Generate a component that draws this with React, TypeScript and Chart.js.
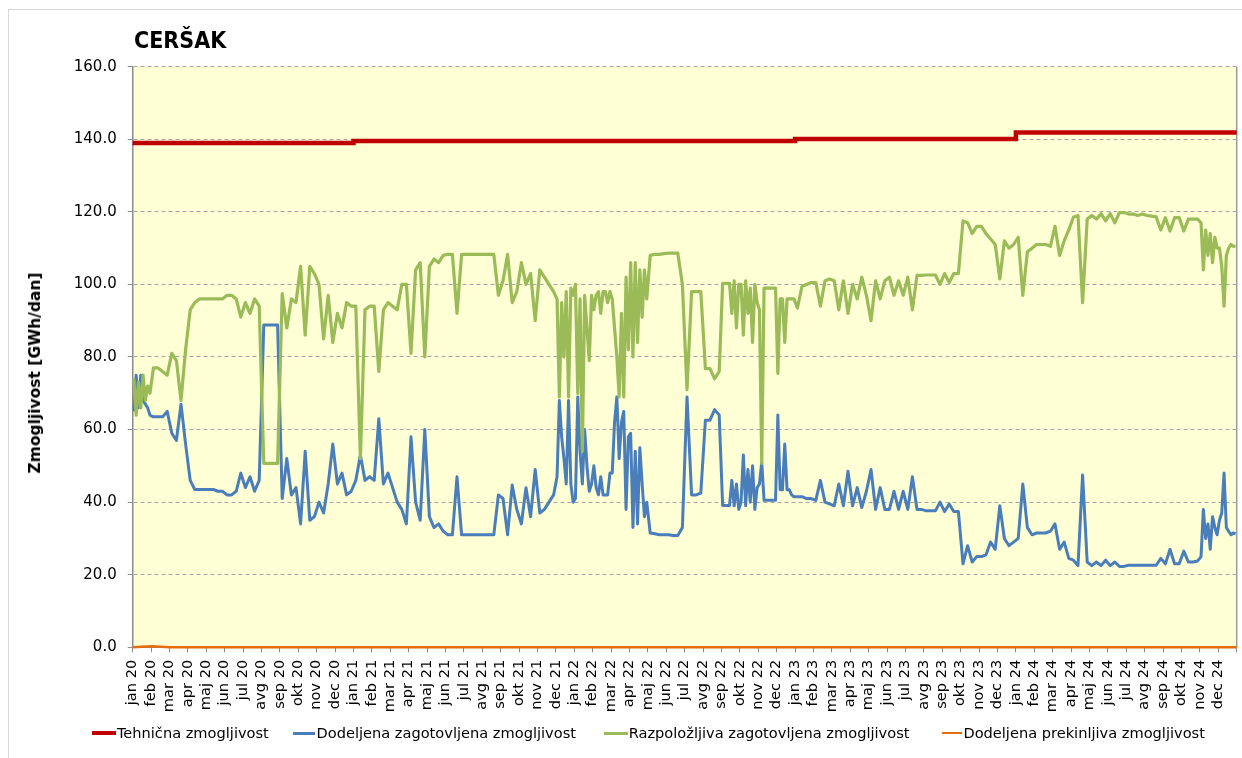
import React, { useEffect, useRef } from "react";
import { Chart, registerables } from "chart.js";

Chart.register(...registerables);

// ---------- DATA ----------
const monthNames = ["jan", "feb", "mar", "apr", "maj", "jun", "jul", "avg", "sep", "okt", "nov", "dec"];
const yearLabels = ["20", "21", "22", "23", "24"];
const monthLabels = yearLabels.flatMap((y) => monthNames.map((m) => `${m} ${y}`));

const yTicks = [0, 20, 40, 60, 80, 100, 120, 140, 160];

// Tehnična zmogljivost – one value per year (GWh/dan)
const technicalYearly = [139.0, 139.5, 139.5, 140.1, 141.9];

// Razpoložljiva zagotovljena zmogljivost – readings within each month (jan..dec)
const green2020 = [
  [74, 64, 73, 66, 75, 68, 72, 70], [77, 77, 76, 75], [81, 79, 68, 82], [93, 95, 96, 96],
  [96, 96, 96, 96], [97, 97, 96, 91], [95, 92, 96, 94], [50.7, 50.7, 50.7, 50.7],
  [97.5, 88, 96, 95], [105, 86, 105, 103], [100, 85, 97, 84], [92, 88, 95, 94],
];
const green2021 = [
  [94, 52, 93, 94], [94, 76, 93, 95], [94, 93, 100, 100], [81, 104, 106, 80],
  [105, 107, 106, 108], [108.3, 108.3, 92, 108.3], [108.3, 108.3, 108.3, 108.3], [108.3, 108.3, 108.3, 97],
  [101, 108.3, 95, 98], [106, 100, 103, 90], [104, 102, 100, 98], [96, 69, 95, 80, 98, 69, 99, 97],
];
const green2022 = [
  [100, 70, 96, 54, 97, 88, 79, 97], [93, 97, 98, 92, 98, 98, 95, 98], [96, 88, 80, 69, 92, 69, 102, 82],
  [106, 80, 106, 84, 104, 91, 104, 96], [108, 108.3, 108.3, 108.5], [108.6, 108.6, 108.6, 100],
  [71, 98, 98, 98], [76.8, 76.8, 74, 76], [100.3, 100.3, 100.3, 100.3, 92, 101, 88, 100],
  [100, 86, 101, 92, 99, 84, 100, 95], [93, 50.7, 99, 99, 99, 99, 99, 99], [75.5, 96, 96, 84, 96, 96, 96, 96],
];
const green2023 = [
  [93.5, 99.5, 100, 100.5], [100.5, 94, 101, 101.5], [101, 93, 101, 92], [100, 96, 102, 97],
  [90, 101, 96, 101], [102, 97, 101, 97], [102, 93, 102.5, 102.5], [102.6, 102.6, 102.6, 100],
  [103, 100.5, 103, 103], [117.5, 117, 114, 116], [116, 114, 112.5, 111], [101.5, 112, 110, 111],
];
const green2024 = [
  [113, 97, 109, 110], [111, 111, 111, 110.5], [116, 108, 112, 115], [118.5, 119, 95, 118],
  [119, 118, 119.5, 117.5], [119.5, 117, 119.8, 119.8], [119.4, 119.4, 119, 119.4], [119, 118.8, 118.6, 115],
  [118.4, 114.7, 118.4, 118.4], [114.7, 118, 118, 118], [117, 104, 115, 108, 114, 106, 113, 110],
  [110, 105, 94, 108, 110, 111, 110.5, 110.6],
];

// Dodeljena zagotovljena zmogljivost – readings within each month (jan..dec)
const blue2020 = [
  [65, 75, 66, 75, 68, 67, 66, 64], [63.5, 63.5, 63.5, 65], [59, 57, 67, 56], [46, 43.5, 43.5, 43.5],
  [43.5, 43.5, 43, 43], [42, 42, 43, 48], [44, 47, 43, 46], [88.8, 88.8, 88.8, 88.8],
  [41, 52, 42, 44], [34, 54, 35, 36], [40, 37, 45, 56], [45, 48, 42, 43],
];
const blue2021 = [
  [46, 53, 46, 47], [46, 63, 45, 48], [44, 40, 38, 34], [58, 40, 35, 60],
  [36, 33, 34, 32], [31, 31, 47, 31], [31, 31, 31, 31], [31, 31, 31, 42],
  [41, 31, 44.7, 38], [34, 44, 36, 49], [37, 38, 40, 42], [47, 68, 58, 52, 45, 68, 45, 40],
];
const blue2022 = [
  [41, 69, 54, 45, 60, 50, 43, 45], [50, 44, 42, 47, 42, 42, 42, 48], [48, 62, 69, 52, 62, 65, 38, 58],
  [59, 33, 54, 34, 55, 45, 36, 40], [31.5, 31.3, 31, 31], [31, 30.8, 30.8, 33],
  [69, 42, 42, 42.5], [62.6, 62.6, 65.5, 64], [39.1, 39.1, 39.1, 39.1, 46, 39, 45, 38],
  [40, 53, 39, 49, 40, 50, 38, 44], [45, 51, 40.5, 40.5, 40.5, 40.5, 40.5, 40.5],
  [64, 43.4, 43.4, 56, 43.4, 43.4, 42, 41.5],
];
const blue2023 = [
  [41.5, 41.5, 41, 41], [40.5, 46, 40, 39.5], [39, 45, 39, 48.5], [39, 44, 38.5, 43],
  [49, 38, 44, 38], [38, 43, 38, 43], [38, 47, 38, 38], [37.6, 37.6, 37.6, 40],
  [37.4, 39.5, 37.4, 37.4], [23, 28, 23.5, 25], [25, 25.5, 29, 27], [39, 30, 28, 29],
];
const blue2024 = [
  [30, 45, 33, 31], [31.5, 31.5, 31.5, 32], [34, 27, 29, 24.5], [24, 22.5, 47.5, 23.5],
  [22.5, 23.5, 22.5, 24], [22.5, 23.5, 22.3, 22.3], [22.6, 22.6, 22.6, 22.6], [22.6, 22.6, 22.6, 24.5],
  [23, 27, 23, 23], [26.5, 23.5, 23.5, 23.8], [25, 38, 30, 34, 27, 36, 33, 31],
  [35, 37, 48, 33, 32, 31, 31.5, 31.3],
];

// Dodeljena prekinljiva zmogljivost – monthly
const orangeMonthly = [
  0, 0.3, 0, 0, 0, 0, 0, 0, 0, 0, 0, 0,
  0, 0, 0, 0, 0, 0, 0, 0, 0, 0, 0, 0,
  0, 0, 0, 0, 0, 0, 0, 0, 0, 0, 0, 0,
  0, 0, 0, 0, 0, 0, 0, 0, 0, 0, 0, 0,
  0, 0, 0, 0, 0, 0, 0, 0, 0, 0, 0, 0,
];

const seriesNames = [
  "Tehnična zmogljivost",
  "Dodeljena zagotovljena zmogljivost",
  "Razpoložljiva zagotovljena zmogljivost",
  "Dodeljena prekinljiva zmogljivost",
];

// ---------- STYLE ----------
const FONT = "'DejaVu Sans', Verdana, sans-serif";
const C_RED = "#C00000";
const C_BLUE = "#4A7EBB";
const C_GREEN = "#9BBB59";
const C_ORANGE = "#E46C0A";

const W = 1242;
const H = 758;
const PLOT_L = 132.7;
const PLOT_R = 1236.7;
const PLOT_T = 66.7;
const PLOT_B = 647.3;
const TOTAL_MONTHS = monthLabels.length;

// month-structured readings -> points placed inside their month
const monthlyToPoints = (years: number[][][]) => {
  const pts: { x: number; y: number }[] = [];
  years.flat().forEach((vals, m) => {
    vals.forEach((v, k) => pts.push({ x: m + (k + 0.5) / vals.length, y: v }));
  });
  return pts;
};
const spread = (arr: number[]) => arr.map((v, i) => ({ x: (i * TOTAL_MONTHS) / (arr.length - 1), y: v }));

const plotBg = {
  id: "plotBg",
  beforeDraw(chart: any) {
    const { ctx, chartArea: a } = chart;
    ctx.save();
    ctx.fillStyle = "#FFFFD6";
    ctx.fillRect(a.left, a.top, a.right - a.left, a.bottom - a.top);
    ctx.strokeStyle = "#9a9a9a";
    ctx.lineWidth = 1.5;
    ctx.beginPath();
    ctx.moveTo(a.right, a.top);
    ctx.lineTo(a.right, a.bottom);
    ctx.stroke();
    ctx.restore();
  },
};

const legendPos = [
  { line: 91.7, w: 24, h: 4.5 },
  { line: 293.3, w: 22, h: 3 },
  { line: 604, w: 23.5, h: 3 },
  { line: 941.7, w: 20.5, h: 2.5 },
];
const legendColors = [C_RED, C_BLUE, C_GREEN, C_ORANGE];

export default function App() {
  const ref = useRef<HTMLCanvasElement | null>(null);

  useEffect(() => {
    if (!ref.current) return;
    const green = monthlyToPoints([green2020, green2021, green2022, green2023, green2024]);
    const blue = monthlyToPoints([blue2020, blue2021, blue2022, blue2023, blue2024]);
    const techPts = technicalYearly.map((v, i) => ({ x: i * 12, y: v }));
    techPts.push({ x: TOTAL_MONTHS, y: technicalYearly[technicalYearly.length - 1] });

    const chart = new Chart(ref.current, {
      type: "line",
      data: {
        datasets: [
          {
            label: seriesNames[0],
            data: techPts,
            borderColor: C_RED,
            borderWidth: 4.5,
            stepped: true,
            pointRadius: 0,
            order: 0,
            clip: false as any,
          },
          {
            label: seriesNames[3],
            data: spread(orangeMonthly),
            borderColor: C_ORANGE,
            borderWidth: 2.5,
            pointRadius: 0,
            order: 1,
            clip: false as any,
          },
          {
            label: seriesNames[2],
            data: green,
            borderColor: C_GREEN,
            borderWidth: 3.2,
            pointRadius: 0,
            borderJoinStyle: "round",
            order: 2,
            clip: false as any,
          },
          {
            label: seriesNames[1],
            data: blue,
            borderColor: C_BLUE,
            borderWidth: 3,
            pointRadius: 0,
            borderJoinStyle: "round",
            order: 3,
            clip: false as any,
          },
        ],
      },
      options: {
        responsive: false,
        animation: false,
        devicePixelRatio: 1,
        parsing: false as any,
        layout: { padding: { left: 0, top: PLOT_T, right: W - PLOT_R, bottom: 0 } },
        plugins: { legend: { display: false }, tooltip: { enabled: false }, title: { display: false } },
        elements: { line: { tension: 0 } },
        scales: {
          x: {
            type: "linear",
            min: 0,
            max: TOTAL_MONTHS,
            afterFit(s: any) {
              s.height = H - PLOT_B;
              s.paddingLeft = 0;
              s.paddingRight = 0;
            },
            afterBuildTicks(s: any) {
              s.ticks = Array.from({ length: TOTAL_MONTHS + 1 }, (_, i) => ({ value: i }));
            },
            ticks: {
              autoSkip: false,
              maxRotation: 90,
              minRotation: 90,
              padding: 7.5,
              color: "#000",
              font: { family: FONT, size: 14.6 },
              callback: (v: any) => monthLabels[Number(v)] ?? "",
            },
            grid: { drawOnChartArea: false, drawTicks: true, tickLength: 5, color: "#8c8c8c" },
            border: { display: true, color: "#8c8c8c", width: 1 },
          },
          y: {
            type: "linear",
            min: 0,
            max: 160,
            afterFit(s: any) {
              s.width = PLOT_L;
              s.paddingTop = 0;
              s.paddingBottom = 0;
            },
            afterBuildTicks(s: any) {
              s.ticks = yTicks.map((v) => ({ value: v }));
            },
            ticks: {
              padding: 11,
              color: "#000",
              font: { family: FONT, size: 15 },
              callback: (v: any) => Number(v).toFixed(1),
            },
            grid: { color: "#a6a6a6", lineWidth: 1, tickLength: 5, tickColor: "#8c8c8c", tickBorderDash: [] },
            border: { display: true, color: "#8c8c8c", width: 1.5, dash: [4, 3] },
          },
        },
      },
      plugins: [plotBg],
    });
    return () => chart.destroy();
  }, []);

  return (
    <div style={{ position: "absolute", left: 0, top: 0, width: W, height: H, overflow: "hidden", background: "#fff" }}>
      <div
        style={{
          position: "absolute",
          left: 8,
          top: 9,
          width: 1250,
          height: 800,
          border: "1px solid #d9d9d9",
          boxSizing: "border-box",
        }}
      />
      <canvas ref={ref} width={W} height={H} style={{ position: "absolute", left: 0, top: 0, display: "block" }} />
      <div
        style={{
          position: "absolute",
          left: 134,
          top: 28.5,
          font: `bold 23px 'DejaVu Sans Condensed', 'DejaVu Sans', sans-serif`,
          lineHeight: "23px",
          color: "#000",
          whiteSpace: "nowrap",
        }}
      >
        CERŠAK
      </div>
      <div
        style={{
          position: "absolute",
          left: 35,
          top: 373,
          transform: "translate(-50%, -50%) rotate(-90deg)",
          font: `bold 15.5px ${FONT}`,
          color: "#000",
          whiteSpace: "nowrap",
        }}
      >
        Zmogljivost [GWh/dan]
      </div>
      {seriesNames.map((name, i) => (
        <div key={name}>
          <div
            style={{
              position: "absolute",
              left: legendPos[i].line,
              top: 733 - legendPos[i].h / 2,
              width: legendPos[i].w,
              height: legendPos[i].h,
              background: legendColors[i],
            }}
          />
          <div
            style={{
              position: "absolute",
              left: legendPos[i].line + legendPos[i].w + 1.2,
              top: 726.2,
              font: `14.6px ${FONT}`,
              lineHeight: "14.6px",
              color: "#000",
              whiteSpace: "nowrap",
            }}
          >
            {name}
          </div>
        </div>
      ))}
    </div>
  );
}
